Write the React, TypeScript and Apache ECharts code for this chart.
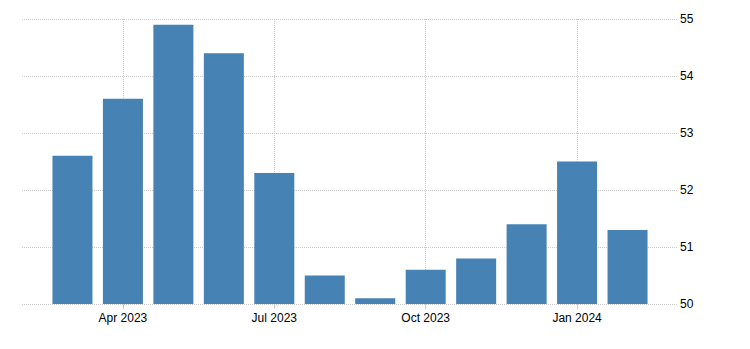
import React, { useEffect, useRef } from "react";
import * as echarts from "echarts";

const months = ["", "Mar 2023", "Apr 2023", "May 2023", "Jun 2023", "Jul 2023", "Aug 2023", "Sep 2023", "Oct 2023", "Nov 2023", "Dec 2023", "Jan 2024", "Feb 2024", ""];
const values = [null, 52.6, 53.6, 54.9, 54.4, 52.3, 50.5, 50.1, 50.6, 50.8, 51.4, 52.5, 51.3, null];
const labeledMonths = ["Apr 2023", "Jul 2023", "Oct 2023", "Jan 2024"];

export default function App() {
  const ref = useRef<HTMLDivElement>(null);
  useEffect(() => {
    document.body.style.margin = "0";
    const chart = echarts.init(ref.current!, null, { renderer: "svg" });
    const showIdx = (i: number) => labeledMonths.includes(months[i]);
    chart.setOption({
      animation: false,
      grid: { left: 22, right: 72, top: 19, bottom: 45 },
      xAxis: {
        type: "category",
        data: months,
        boundaryGap: false,
        axisLine: { show: false },
        axisTick: { show: true, interval: showIdx, length: 5, lineStyle: { color: "#ccc" } },
        axisLabel: {
          interval: showIdx,
          color: "#000",
          fontFamily: "Liberation Sans, Arial, sans-serif",
          fontSize: 12,
          margin: 8,
        },
        splitLine: { show: true, interval: showIdx, lineStyle: { type: "dotted", color: "#ccc" } },
      },
      yAxis: {
        type: "value",
        position: "right",
        min: 50,
        max: 55,
        interval: 1,
        axisLine: { show: false },
        axisTick: { show: false },
        axisLabel: {
          color: "#000",
          fontFamily: "Liberation Sans, Arial, sans-serif",
          fontSize: 12,
          margin: 2,
        },
        splitLine: { lineStyle: { type: "dotted", color: "#ccc" } },
      },
      series: [
        {
          type: "bar",
          data: values,
          barWidth: 40,
          itemStyle: { color: "#4682B4" },
        },
      ],
    });
    return () => chart.dispose();
  }, []);
  return <div ref={ref} style={{ width: 750, height: 349 }} />;
}
